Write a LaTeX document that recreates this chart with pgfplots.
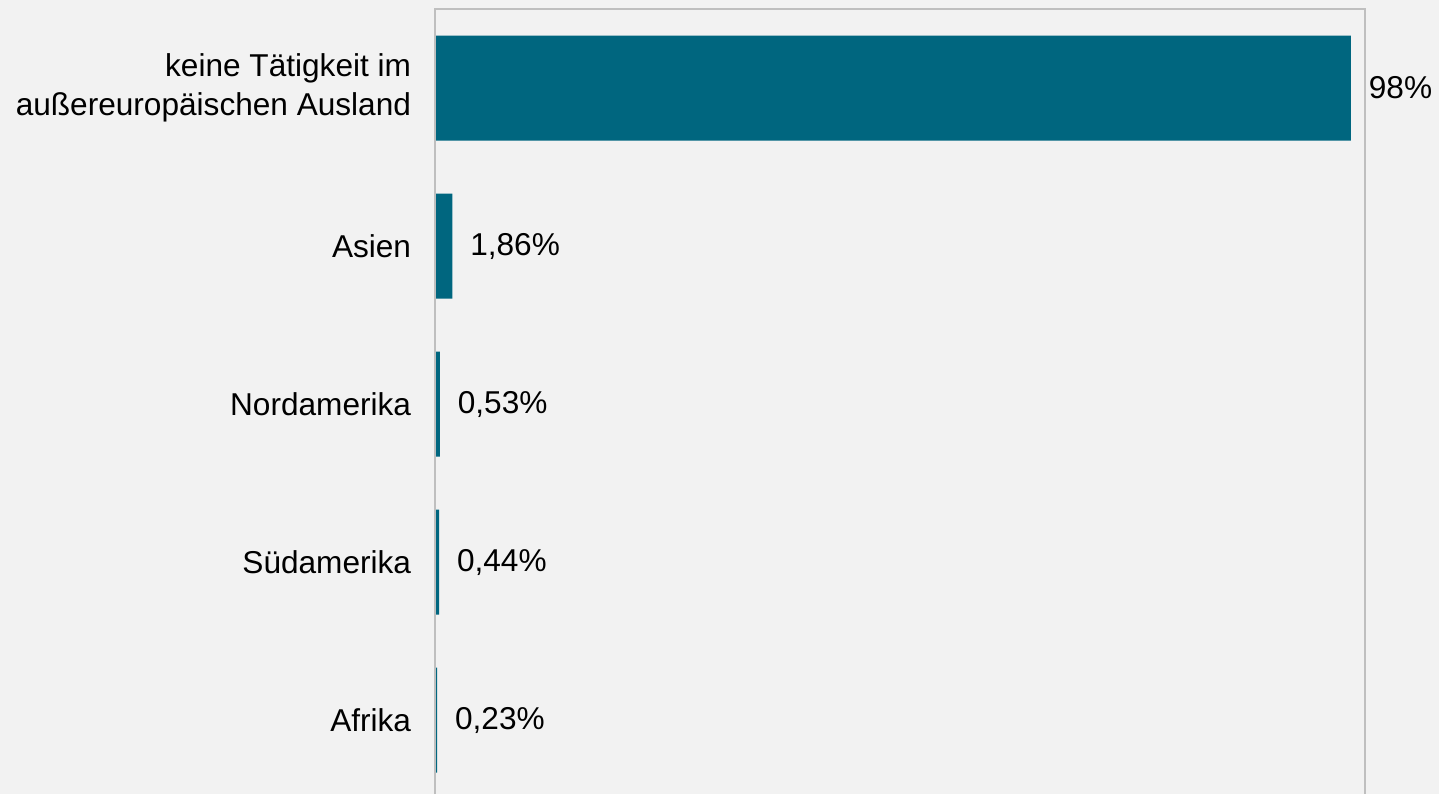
\documentclass[border=0pt]{standalone}
\usepackage{pgfplots}
\pgfplotsset{compat=1.18}
\usepackage{fontspec}
\setmainfont{Liberation Sans}
\definecolor{bgc}{HTML}{F2F2F2}
\definecolor{barc}{HTML}{00667F}
\definecolor{framec}{HTML}{BFBFBF}
\begin{document}
\fontsize{15.8}{19.5}\selectfont
\begin{tikzpicture}
\fill[bgc] (-217.5pt,0) rectangle (502pt,397pt);
\path[use as bounding box] (-217.5pt,0) rectangle (502pt,397pt);
\begin{axis}[%
width=465pt,
height=392.5pt,
at={(0pt,0pt)},
anchor=south west,
scale only axis,
xbar,
bar width=52.5pt,
xmin=0,
xmax=99.5,
ymin=-0.468,
ymax=4.5,
axis line style={draw=none},
xtick=\empty,
ytick={0,1,2,3,4},
yticklabels={Afrika,Südamerika,Nordamerika,Asien,{keine Tätigkeit im\\außereuropäischen Ausland}},
yticklabel style={align=right, xshift=-6.5pt, font=\fontsize{15.8}{19.5}\selectfont},
major tick length=0pt,
point meta=explicit symbolic,
nodes near coords,
every node near coord/.append style={anchor=west, xshift=3.5pt, font=\fontsize{15.8}{19.5}\selectfont, text=black},
clip=false,
]
\addplot[fill=barc, draw=none] coordinates {
(0.23,0) [0,23\%]
(0.44,1) [0,44\%]
(0.53,2) [0,53\%]
(1.86,3) [1,86\%]
(98,4) [98\%]
};
\draw[framec, line width=0.8pt] (rel axis cs:0,0) -- (rel axis cs:0,1) -- (rel axis cs:1,1) -- (rel axis cs:1,0);
\end{axis}
\end{tikzpicture}
\end{document}
